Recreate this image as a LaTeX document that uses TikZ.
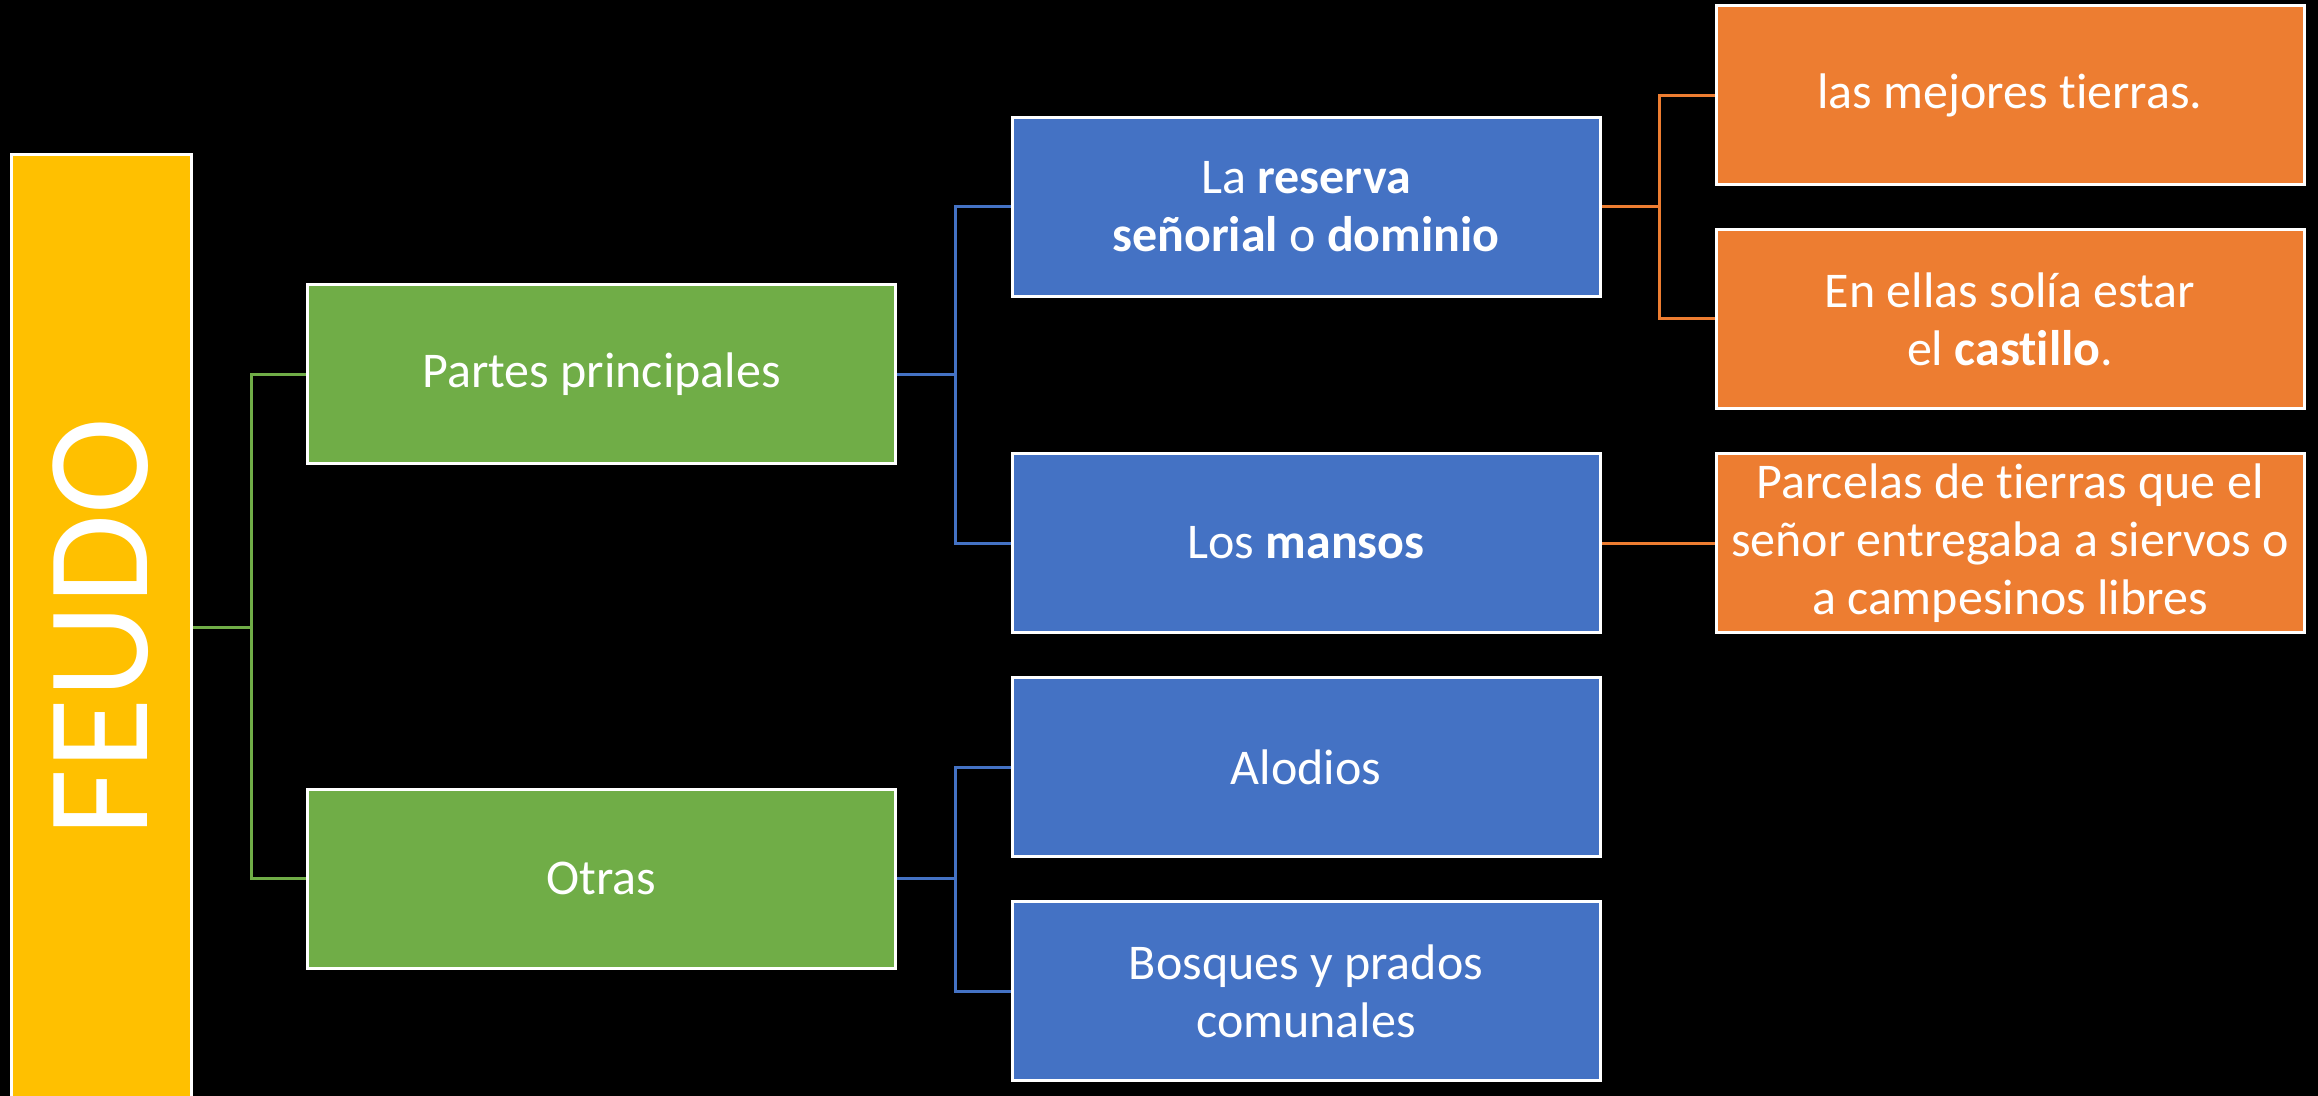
\documentclass[tikz,border=0pt]{standalone}
\usepackage{fontspec}
\setmainfont{Carlito}[Ligatures={NoCommon}]
\usetikzlibrary{backgrounds}
\definecolor{cyel}{HTML}{FFC000}
\definecolor{cgrn}{HTML}{70AD47}
\definecolor{cblu}{HTML}{4472C4}
\definecolor{corg}{HTML}{ED7D31}
\begin{document}
\begin{tikzpicture}[x=0.5pt,y=-0.5pt,
  box/.style={draw=white, line width=1.5pt, text=white, align=center, inner sep=0pt,
    font=\fontsize{25}{29}\selectfont, minimum width=294pt, minimum height=89.5pt},
  gbox/.style={box, fill=cgrn},
  bbox/.style={box, fill=cblu},
  obox/.style={box, fill=corg},
  link/.style={line width=1.5pt},
  glink/.style={link, draw=cgrn},
  blink/.style={link, draw=cblu},
  olink/.style={link, draw=corg}]
\useasboundingbox (0,0) rectangle (2318,1096);
\begin{scope}[on background layer]
\fill[black] (0,0) rectangle (2318,1096);
\end{scope}
\node[box, fill=cyel, minimum width=90pt, minimum height=472.5pt, font=\fontsize{73}{80}\selectfont] (feudo) at (101,627.5) {\rotatebox{90}{FEUDO}};
\node[gbox] (partes) at (601.5,374.5) {Partes principales};
\node[gbox] (otras) at (601.5,878.5) {Otras};
\node[bbox] (reserva) at (1306,207) {La \textbf{reserva}\\\textbf{señorial} o \textbf{dominio}};
\node[bbox] (mansos) at (1306,543) {Los \textbf{mansos}};
\node[bbox] (alodios) at (1306,767) {Alodios};
\node[bbox] (bosques) at (1306,991) {Bosques y prados\\comunales};
\node[obox] (o1) at (2010,95.5) {las mejores tierras.};
\node[obox] (o2) at (2010,319) {En ellas solía estar\\el \textbf{castillo}.};
\node[obox] (o3) at (2010,543) {Parcelas de tierras que el\\señor entregaba a siervos o\\a campesinos libres};
\begin{scope}[on background layer]
\draw[glink] (feudo.east) -- ++(59,0) |- (partes.west);
\draw[glink] (feudo.east) -- ++(59,0) |- (otras.west);
\draw[blink] (partes.east) -- ++(58,0) |- (reserva.west);
\draw[blink] (partes.east) -- ++(58,0) |- (mansos.west);
\draw[blink] (otras.east) -- ++(58,0) |- (alodios.west);
\draw[blink] (otras.east) -- ++(58,0) |- (bosques.west);
\draw[olink] (reserva.east) -- ++(58,0) |- (o1.west);
\draw[olink] (reserva.east) -- ++(58,0) |- (o2.west);
\draw[olink] (mansos.east) -- (o3.west);
\end{scope}
\end{tikzpicture}
\end{document}
